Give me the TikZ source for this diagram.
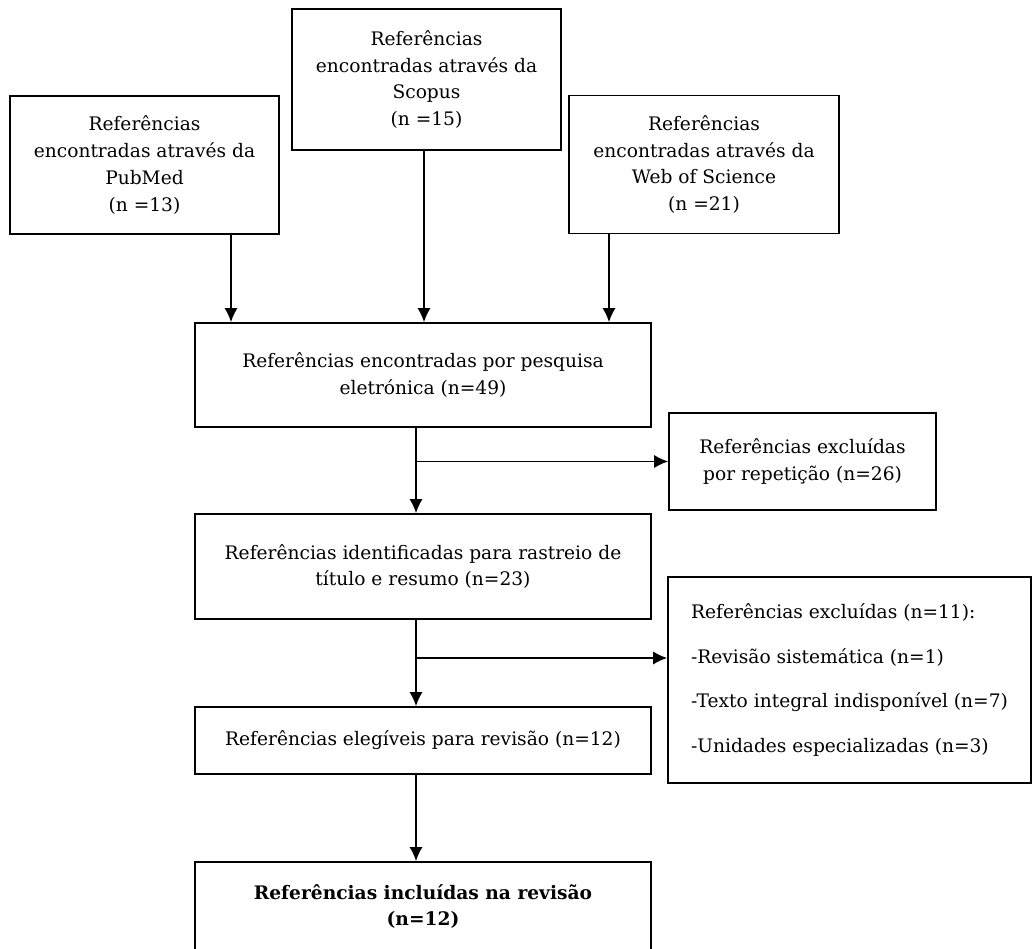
\documentclass[tikz,border=0pt]{standalone}
\usepackage{fontspec}
\setmainfont{DejaVu Serif}
\usetikzlibrary{arrows.meta, positioning}

\begin{document}
\begin{tikzpicture}[x=0.02cm, y=-0.02cm, font=\fontsize{10.6}{15.3}\selectfont]
        \tikzstyle{block} = [rectangle, draw, line width=1pt, align=center, inner sep=0pt]
        \tikzstyle{source} = [block, minimum width=5.38cm, minimum height=2.76cm]
        \tikzstyle{stage} = [block, minimum width=9.12cm]
        \tikzstyle{line} = [draw, line width=0.85pt, -{Latex[length=8pt, width=7.5pt]}]

        \path [use as bounding box, clip] (0,0) rectangle (1035,949);

        \node [source] (pubmed) at (144.5,165) {Referências\\encontradas através da\\PubMed\\(n =13)};
        \node [source, minimum height=2.82cm] (scopus) at (426.5,79.5) {Referências\\encontradas através da\\Scopus\\(n =15)};
        \node [source, minimum width=5.4cm] (wos) at (704,164.5) {Referências\\encontradas através da\\Web of Science\\(n =21)};
        \node [stage, minimum height=2.08cm] (search) at (423,375) {Referências encontradas por pesquisa\\eletrónica (n=49)};
        \node [block, minimum width=5.34cm, minimum height=1.94cm] (dupl) at (802.5,461.5) {Referências excluídas\\por repetição (n=26)};
        \node [stage, minimum height=2.1cm] (screen) at (423,566.5) {Referências identificadas para rastreio de\\título e resumo (n=23)};
        \node [block, align=left, minimum width=7.26cm, minimum height=4.12cm] (excluded) at (849.5,680) {Referências excluídas (n=11):\\[10.2pt]-Revisão sistemática (n=1)\\[10.2pt]-Texto integral indisponível (n=7)\\[10.2pt]-Unidades especializadas (n=3)};
        \node [stage, minimum height=1.34cm] (eligible) at (423,740.5) {Referências elegíveis para revisão (n=12)};
        \node [stage, minimum height=1.78cm, font=\fontsize{10.6}{15.3}\selectfont\bfseries] (included) at (423,906.5) {Referências incluídas na revisão\\(n=12)};

        % columns of the connectors
        \coordinate (colA) at (231,0);
        \coordinate (colB) at (424,0);
        \coordinate (colC) at (609,0);
        \coordinate (spine) at (416,0);
        \coordinate (split) at (416,658);

        \path [line] (pubmed.south -| colA) -- (search.north -| colA);
        \path [line] (scopus.south -| colB) -- (search.north -| colB);
        \path [line] (wos.south -| colC) -- (search.north -| colC);
        \path [line] (search.south -| spine) -- (screen.north -| spine);
        \path [line] (spine |- dupl.west) -- (dupl.west);
        \path [line] (screen.south -| spine) -- (eligible.north -| spine);
        \path [line] (split) -- (split -| excluded.west);
        \path [line] (eligible.south -| spine) -- (included.north -| spine);
    \end{tikzpicture}
\end{document}
